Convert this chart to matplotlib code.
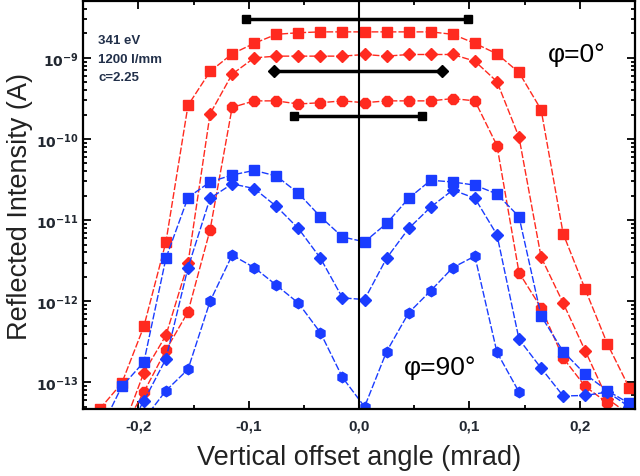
import numpy as np
import matplotlib
matplotlib.use('agg')
import matplotlib.pyplot as plt
from matplotlib.ticker import LogLocator, FixedLocator, NullFormatter

plt.rcParams['font.family'] = ['Liberation Sans', 'DejaVu Sans']

nan = np.nan
# offset angle (mrad)
angle = [-0.235, -0.215, -0.195, -0.175, -0.155, -0.135, -0.115, -0.095, -0.075,
         -0.055, -0.035, -0.015, 0.005, 0.025, 0.045, 0.065, 0.085, 0.105,
         0.125, 0.145, 0.165, 0.185, 0.205, 0.225, 0.245]

# phi = 0 deg (red)
red_sq = [4.7e-14, 9.8e-14, 4.9e-13, 5.4e-12, 2.6e-10, 6.8e-10, 1.12e-9, 1.51e-9, 1.95e-9,
          2.04e-9, 2.09e-9, 2.09e-9, 2.09e-9, 2.09e-9, 2.09e-9, 2.09e-9, 1.95e-9, 1.51e-9,
          1.12e-9, 6.6e-10, 2.3e-10, 6.8e-12, 1.4e-12, 3.0e-13, 8.5e-14]
red_dia = [nan, 2.5e-14, 1.32e-13, 3.8e-13, 2.95e-12, 2.04e-10, 6.3e-10, 1.0e-9, 1.05e-9,
           1.05e-9, 1.05e-9, 1.05e-9, 1.1e-9, 1.05e-9, 1.1e-9, 1.1e-9, 1.1e-9, 9.1e-10,
           5.1e-10, 1.05e-10, 3.5e-12, 9.5e-13, 2.45e-13, 6.3e-14, 4.0e-14]
red_oct = [nan, 2.5e-14, 7.6e-14, 2.5e-13, 7.4e-13, 7.6e-12, 2.45e-10, 2.95e-10, 2.95e-10,
           2.7e-10, 2.8e-10, 2.95e-10, 2.8e-10, 2.95e-10, 2.95e-10, 2.95e-10, 3.15e-10, 2.95e-10,
           8.3e-11, 2.25e-12, 8.3e-13, 2.0e-13, 8.9e-14, 5.6e-14, nan]

# phi = 90 deg (blue)
blue_sq = [2.5e-14, 8.9e-14, 1.78e-13, 3.4e-12, 1.9e-11, 2.95e-11, 3.6e-11, 4.1e-11, 3.5e-11,
           2.15e-11, 1.1e-11, 6.2e-12, 5.4e-12, 9.1e-12, 1.86e-11, 3.1e-11, 2.95e-11, 2.7e-11,
           2.1e-11, 1.1e-11, 6.6e-13, 2.4e-13, 1.26e-13, 7.9e-14, 5.5e-14]
blue_dia = [nan, 2.0e-14, 5.9e-14, 1.95e-13, 2.6e-12, 1.86e-11, 2.8e-11, 2.45e-11, 1.48e-11,
            7.9e-12, 3.4e-12, 1.1e-12, 1.05e-12, 3.4e-12, 7.9e-12, 1.45e-11, 2.35e-11, 1.86e-11,
            6.6e-12, 3.4e-13, 1.5e-13, 6.8e-14, 6.9e-14, 7.6e-14, 5.0e-14]
blue_hex = [nan, nan, 3.5e-14, 7.9e-14, 1.45e-13, 1.0e-12, 3.7e-12, 2.6e-12, 1.58e-12,
            9.5e-13, 4.1e-13, 1.15e-13, 5.0e-14, 2.4e-13, 7.2e-13, 1.35e-12, 2.6e-12, 3.6e-12,
            2.35e-13, 7.6e-14, nan, nan, nan, nan, nan]

# black width bars
bar_left = [-0.102, -0.077, -0.059]
bar_right = [0.099, 0.075, 0.057]
bar_level = [3.0e-9, 6.8e-10, 1.9e-10]
bar_marker = ['s', 'D', 's']

red = '#ff2a1f'
blue = '#1a3cff'
dash = (0, (5, 1.5))

fig = plt.figure(figsize=(6.4, 4.77), dpi=100)
ax = fig.add_axes([0.13, 0.1405, 0.862, 0.855])

ax.plot(angle, red_sq, color=red, ls=dash, lw=1.0, marker='s', ms=7.5, mec=red)
ax.plot(angle, red_dia, color=red, ls=dash, lw=1.0, marker='D', ms=6.5, mec=red)
ax.plot(angle, red_oct, color=red, ls=dash, lw=1.0, marker='8', ms=7.5, mec=red)
ax.plot(angle, blue_sq, color=blue, ls=dash, lw=1.0, marker='s', ms=7.5, mec=blue)
ax.plot(angle, blue_dia, color=blue, ls=dash, lw=1.0, marker='D', ms=6.5, mec=blue)
ax.plot(angle, blue_hex, color=blue, ls=dash, lw=1.0, marker='h', ms=7.5, mec=blue)

for l, r, y, m in zip(bar_left, bar_right, bar_level, bar_marker):
    ax.plot([l, r], [y, y], color='black', lw=2.5, marker=m, ms=6 if m == 's' else 6.5)

ax.axvline(0, color='black', lw=1.5)

ax.set_yscale('log')
ax.set_xlim(-0.25, 0.25)
ax.set_ylim(4.7e-14, 5e-9)

ax.set_xticks([-0.2, -0.1, 0.0, 0.1, 0.2])
ax.set_xticklabels(['-0,2', '-0,1', '0,0', '0,1', '0,2'], fontsize=11, fontweight='bold', color='#222831')
ax.xaxis.set_minor_locator(FixedLocator([-0.15, -0.05, 0.05, 0.15]))
ax.yaxis.set_major_locator(FixedLocator([1e-13, 1e-12, 1e-11, 1e-10, 1e-9]))
ax.set_yticklabels([r'$\mathbf{10^{-13}}$', r'$\mathbf{10^{-12}}$', r'$\mathbf{10^{-11}}$',
                    r'$\mathbf{10^{-10}}$', r'$\mathbf{10^{-9}}$'],
                   fontsize=10, color='#222831')
ax.yaxis.set_minor_locator(LogLocator(base=10, subs=np.arange(2, 10), numticks=20))
ax.yaxis.set_minor_formatter(NullFormatter())
ax.tick_params(which='both', direction='in', top=True, right=True, width=1.3)
ax.tick_params(which='major', length=6)
ax.tick_params(which='minor', length=3)
ax.tick_params(axis='x', pad=7)
for s in ax.spines.values():
    s.set_linewidth(1.6)

ax.set_xlabel('Vertical offset angle (mrad)', fontsize=19.5, color='#222222', labelpad=8)
ax.set_ylabel('Reflected Intensity (A)', fontsize=19.5, color='#222222', labelpad=2)

ax.text(0.027, 0.92, '341 eV\n1200 l/mm\nc=2.25', transform=ax.transAxes, fontsize=9.5,
        fontweight='bold', color='#22304a', va='top', linespacing=1.75)
ax.text(0.842, 0.87, '\u03c6=0\u00b0', transform=ax.transAxes, fontsize=19, color='black', va='center')
ax.text(0.582, 0.103, '\u03c6=90\u00b0', transform=ax.transAxes, fontsize=19, color='black', va='center')

fig.savefig('out.png', dpi=100)
